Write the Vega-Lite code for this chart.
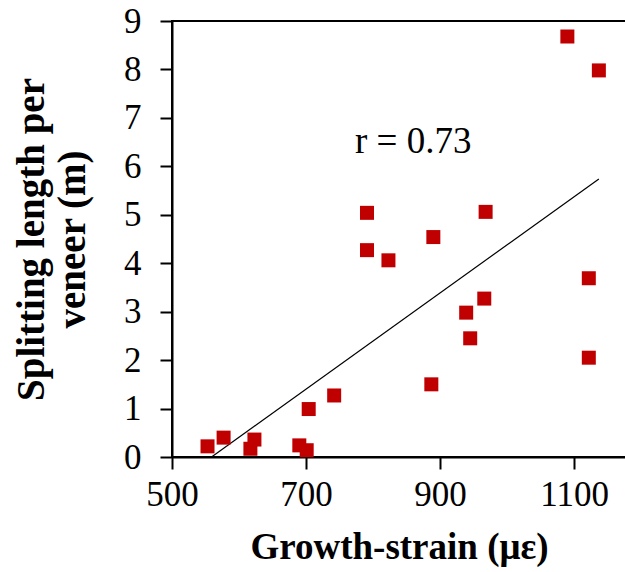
{
  "$schema": "https://vega.github.io/schema/vega-lite/v6.json",
  "autosize": "none",
  "width": 454,
  "height": 436,
  "padding": {"left": 172, "top": 21, "right": 0, "bottom": 115},
  "background": "white",
  "config": {
    "view": {"stroke": "black", "strokeWidth": 2},
    "font": "Liberation Serif",
    "axis": {
      "domainColor": "black", "domainWidth": 2,
      "tickColor": "black", "tickWidth": 2, "tickSize": 12,
      "grid": false, "labelFlush": false, "format": "d",
      "labelFont": "Liberation Serif", "labelFontSize": 35, "labelColor": "black",
      "titleFont": "Liberation Serif", "titleFontSize": 37, "titleFontWeight": "bold", "titleColor": "black"
    }
  },
  "datasets": {
    "points": [
      {"strain": 553, "length": 0.22},
      {"strain": 577, "length": 0.40},
      {"strain": 617, "length": 0.17},
      {"strain": 623, "length": 0.36},
      {"strain": 690, "length": 0.24},
      {"strain": 701, "length": 0.14},
      {"strain": 704, "length": 0.99},
      {"strain": 742, "length": 1.27},
      {"strain": 791, "length": 5.04},
      {"strain": 791, "length": 4.27},
      {"strain": 823, "length": 4.06},
      {"strain": 890, "length": 4.54},
      {"strain": 887, "length": 1.50},
      {"strain": 968, "length": 5.06},
      {"strain": 966, "length": 3.27},
      {"strain": 939, "length": 2.98},
      {"strain": 945, "length": 2.45},
      {"strain": 1122, "length": 3.69},
      {"strain": 1122, "length": 2.05},
      {"strain": 1090, "length": 8.68},
      {"strain": 1137, "length": 7.98}
    ],
    "trend": [
      {"strain": 559, "length": 0},
      {"strain": 1137, "length": 5.74}
    ],
    "label": [
      {"strain": 860, "length": 6.27, "text": "r = 0.73"}
    ]
  },
  "layer": [
    {
      "data": {"name": "trend"},
      "mark": {"type": "line", "color": "black", "strokeWidth": 1.2},
      "encoding": {
        "x": {"field": "strain", "type": "quantitative",
              "scale": {"domain": [500, 1177.5], "nice": false, "zero": false},
              "axis": {"values": [500, 700, 900, 1100], "format": "d", "labelFlush": false, "title": "Growth-strain (με)", "labelPadding": 8, "titlePadding": 17, "titleFont": "Liberation Serif", "titleFontSize": 37, "titleFontWeight": "bold"}},
        "y": {"field": "length", "type": "quantitative",
              "scale": {"domain": [0, 9], "nice": false},
              "axis": {"values": [0,1,2,3,4,5,6,7,8,9], "labelFlush": false, "title": ["Splitting length per", "veneer (m)"], "labelPadding": 19, "titlePadding": 31, "titleLineHeight": 41, "titleFont": "Liberation Serif", "titleFontSize": 39, "titleFontWeight": "bold"}}
      }
    },
    {
      "data": {"name": "points"},
      "mark": {"type": "square", "color": "#C00000", "opacity": 1, "size": 196},
      "encoding": {
        "x": {"field": "strain", "type": "quantitative"},
        "y": {"field": "length", "type": "quantitative"}
      }
    },
    {
      "data": {"name": "label"},
      "mark": {"type": "text", "font": "Liberation Serif", "fontSize": 37, "align": "center", "baseline": "alphabetic", "color": "black"},
      "encoding": {
        "x": {"field": "strain", "type": "quantitative"},
        "y": {"field": "length", "type": "quantitative"},
        "text": {"field": "text"}
      }
    }
  ]
}
